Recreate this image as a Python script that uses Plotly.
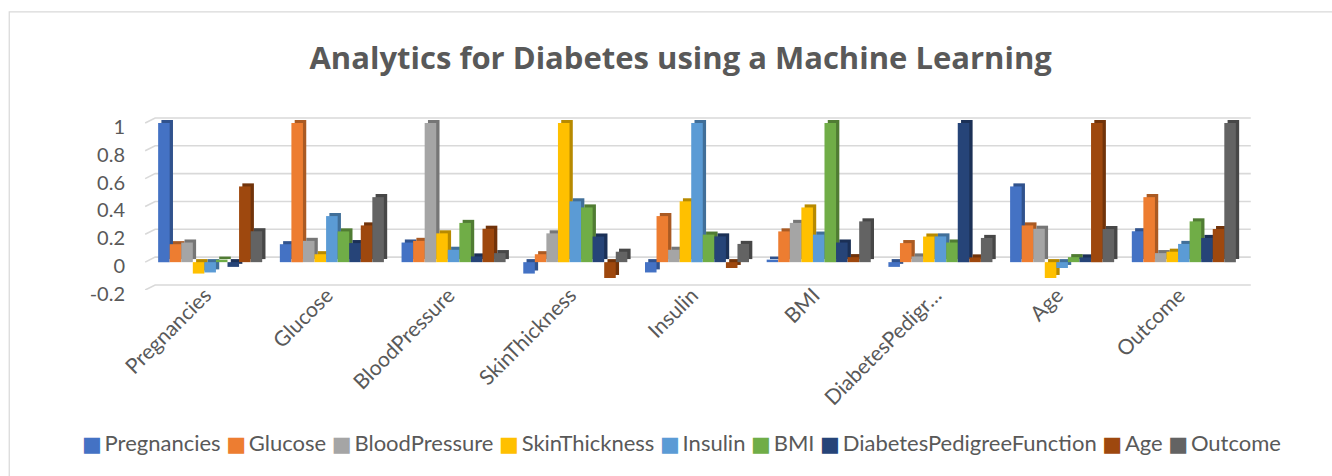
import plotly.graph_objects as go

# Correlation matrix of the diabetes dataset features
categories = ["Pregnancies", "Glucose", "BloodPressure", "SkinThickness", "Insulin",
              "BMI", "DiabetesPedigreeFunction", "Age", "Outcome"]
tick_text = ["Pregnancies", "Glucose", "BloodPressure", "SkinThickness", "Insulin",
             "BMI", "DiabetesPedigr…", "Age", "Outcome"]

pregnancies = [1.000, 0.129, 0.141, -0.082, -0.074, 0.018, -0.034, 0.544, 0.222]
glucose = [0.129, 1.000, 0.153, 0.057, 0.331, 0.221, 0.137, 0.264, 0.467]
blood_pressure = [0.141, 0.153, 1.000, 0.207, 0.089, 0.282, 0.041, 0.240, 0.065]
skin_thickness = [-0.082, 0.057, 0.207, 1.000, 0.437, 0.393, 0.184, -0.114, 0.075]
insulin = [-0.074, 0.331, 0.089, 0.437, 1.000, 0.198, 0.185, -0.042, 0.131]
bmi = [0.018, 0.221, 0.282, 0.393, 0.198, 1.000, 0.141, 0.036, 0.293]
pedigree = [-0.034, 0.137, 0.041, 0.184, 0.185, 0.141, 1.000, 0.034, 0.174]
age = [0.544, 0.264, 0.240, -0.114, -0.042, 0.036, 0.034, 1.000, 0.238]
outcome = [0.222, 0.467, 0.065, 0.075, 0.131, 0.293, 0.174, 0.238, 1.000]

series = [pregnancies, glucose, blood_pressure, skin_thickness, insulin,
          bmi, pedigree, age, outcome]
colors = ["#4472C4", "#ED7D31", "#A5A5A5", "#FFC000", "#5B9BD5",
          "#70AD47", "#264478", "#9E480E", "#636363"]
y_ticks = [-0.2, 0, 0.2, 0.4, 0.6, 0.8, 1]

TEXT = "#595959"
GRID = "#D9D9D9"
BAR_W = 0.095          # width of one bar in category units
DEPTH_X = 0.027        # extrusion of the bar side face
DEPTH_Y = 0.022        # extrusion of the bar top face
WALL_X, WALL_Y = 0.082, 0.036


def darker(hex_color, f=0.72):
    h = hex_color.lstrip("#")
    r, g, b = (int(h[i:i + 2], 16) for i in (0, 2, 4))
    return "#{:02X}{:02X}{:02X}".format(int(r * f), int(g * f), int(b * f))


xs = list(range(len(categories)))
fig = go.Figure()

# side/top faces first, so the fronts of neighbouring bars sit over them
for i, (name, vals, col) in enumerate(zip(categories, series, colors)):
    off = -0.4275 + i * BAR_W
    fig.add_trace(go.Bar(
        x=xs, y=vals, base=[DEPTH_Y] * len(vals), width=BAR_W, offset=off + DEPTH_X,
        marker=dict(color=darker(col), line=dict(width=0)),
        showlegend=False, hoverinfo="skip"))

for i, (name, vals, col) in enumerate(zip(categories, series, colors)):
    off = -0.4275 + i * BAR_W
    fig.add_trace(go.Bar(
        x=xs, y=vals, width=BAR_W, offset=off, name=name,
        marker=dict(color=col, line=dict(width=0)), showlegend=False))

# back-wall gridlines with a short slanted floor edge on the left
shapes = []
for v in y_ticks:
    shapes.append(dict(
        type="path", xref="x", yref="y", layer="below",
        path=f"M -0.534,{v} L {-0.534 + WALL_X},{v + WALL_Y} L 8.55,{v + WALL_Y}",
        line=dict(color=GRID, width=1.6)))

# chart frame
shapes.append(dict(type="rect", xref="paper", yref="paper",
                   x0=-0.1196, y0=-1.3, x1=1.2, y1=1.598,
                   line=dict(color=GRID, width=1.2), fillcolor="rgba(0,0,0,0)",
                   layer="below"))

# legend drawn as one line of coloured squares and names
legend_html = "&#160;".join(
    f"<span style='color:{c};font-size:21px;font-family:DejaVu Sans'>■</span>&#8201;{n}"
    for n, c in zip(categories, colors))

fig.update_layout(
    width=1332, height=476,
    margin=dict(l=141.8, r=80.2, t=116, b=186.2),
    paper_bgcolor="white", plot_bgcolor="white",
    barmode="overlay",
    font=dict(family="Lato, 'Open Sans', sans-serif", color=TEXT, size=18),
    title=dict(text="<b>Analytics for Diabetes using a Machine Learning</b>",
               x=0.511, xanchor="center", y=1 - 58 / 476, yanchor="middle",
               font=dict(size=31, color=TEXT, family="'Open Sans', sans-serif")),
    xaxis=dict(range=[-0.56, 8.56], tickmode="array", tickvals=xs, ticktext=tick_text,
               tickangle=-45, showgrid=False, zeroline=False, showline=False,
               ticks="", ticklabelstandoff=-12, ticklabelshift=-5,
               tickfont=dict(size=21, color=TEXT)),
    yaxis=dict(range=[-0.2, 1.05], tickmode="array", tickvals=y_ticks,
               ticktext=["-0.2", "0", "0.2", "0.4", "0.6", "0.8", "1"],
               showgrid=False, zeroline=False, showline=False, ticks="",
               ticklabelstandoff=16, ticklabelshift=4,
               tickfont=dict(size=20, color=TEXT)),
    shapes=shapes,
    annotations=[dict(text=legend_html, xref="paper", yref="paper",
                      x=(681.5 - 141.8) / 1110, y=(289.8 - 442) / 173.8,
                      xanchor="center", yanchor="middle", showarrow=False,
                      font=dict(size=22, color=TEXT))],
)

fig.write_html("out.html")
